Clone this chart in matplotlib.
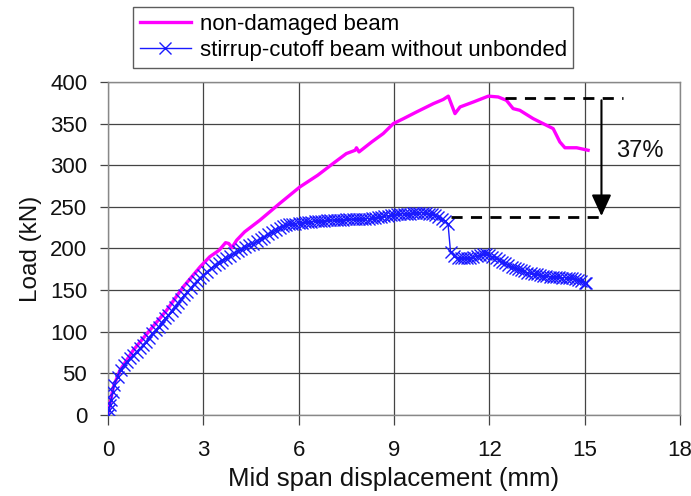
import matplotlib
matplotlib.use("Agg")
import matplotlib.pyplot as plt

# Non-damaged beam (magenta)
nd_x = [0.0, 0.17, 0.38, 0.8, 1.32, 1.85, 2.37, 2.9, 3.2, 3.5, 3.7, 3.8, 3.9, 4.05, 4.3, 4.78, 5.4,
        6.04, 6.6, 7.08, 7.5, 7.78, 7.82, 7.9, 8.3, 8.66, 8.98, 9.3, 9.71, 10.24, 10.55, 10.71,
        10.92, 11.08, 11.5, 11.97, 12.28, 12.54, 12.75, 12.96, 13.38, 14.01, 14.22, 14.38,
        14.75, 15.11]
nd_y = [2, 34, 54, 78, 102, 126, 154, 178, 190, 198, 207, 206, 201, 210, 220, 234, 254,
        274, 288, 302, 314, 318, 321, 316, 328, 338, 350, 356, 364, 374, 379, 383,
        362, 370, 376, 383, 382, 378, 368, 366, 356, 344, 328, 321,
        321, 318]

# Stirrup-cutoff beam without unbonded (blue, x markers)
sc_x = [0.0, 0.03, 0.06, 0.1, 0.15, 0.2, 0.3, 0.4, 0.5, 0.6, 0.7, 0.8, 0.9, 1.0, 1.1, 1.2, 1.3,
        1.4, 1.5, 1.6, 1.7, 1.8, 1.9, 2.0, 2.1, 2.2, 2.3, 2.4, 2.5, 2.6, 2.7, 2.8, 2.9, 3.0,
        3.12, 3.24, 3.36, 3.48, 3.6, 3.72, 3.84, 3.96, 4.08, 4.2, 4.32, 4.44, 4.56, 4.68,
        4.8, 4.92, 5.04, 5.16, 5.28, 5.4,
        5.5, 5.6, 5.7, 5.8, 5.9, 6.0, 6.1, 6.2, 6.3, 6.4, 6.5, 6.6, 6.7, 6.8, 6.9, 7.0,
        7.1, 7.2, 7.3, 7.4, 7.5, 7.6, 7.7, 7.8, 7.9, 8.0, 8.1, 8.2, 8.3, 8.4, 8.5, 8.6,
        8.7, 8.8, 8.9, 9.0, 9.1, 9.2, 9.3, 9.4, 9.5, 9.6, 9.7, 9.8, 9.9, 10.0, 10.1, 10.2,
        10.3, 10.4, 10.5, 10.6, 10.7,
        10.78, 10.9, 11.0, 11.1, 11.2, 11.3, 11.4, 11.5, 11.6, 11.7, 11.8, 11.9, 12.0, 12.1,
        12.2, 12.3, 12.4, 12.5, 12.6, 12.7, 12.8, 12.9, 13.0, 13.1, 13.2, 13.3, 13.4, 13.5,
        13.6, 13.7, 13.8, 13.9, 14.0, 14.1, 14.2, 14.3, 14.4, 14.5, 14.6, 14.7, 14.8, 14.9,
        15.0, 15.05]
sc_y = [0, 6, 12, 18, 28, 36, 46, 54, 60, 64, 68, 72, 76, 80, 84, 88, 93,
        98, 102, 106, 111, 116, 120, 125, 130, 134, 139, 144, 148, 152, 157, 161, 165, 168,
        172, 176, 180, 183, 186, 189, 191, 194, 197, 199, 202, 204, 206, 209,
        212, 214, 217, 220, 222, 225,
        227, 228, 229, 230, 230, 231, 231, 232, 232, 232, 233, 233, 233, 233, 234, 234,
        234, 234, 234, 234, 235, 235, 235, 235, 235, 236, 236, 236, 237, 237, 238, 238,
        239, 239, 240, 240, 241, 241, 242, 242, 242, 243, 243, 243, 243, 243, 242, 241,
        240, 238, 236, 233, 230,
        196, 191, 189, 188, 188, 188, 189, 190, 191, 192, 193, 193, 192, 190,
        188, 186, 184, 182, 180, 178, 177, 175, 174, 173, 171, 170, 169, 169,
        168, 167, 167, 166, 166, 166, 166, 165, 165, 165, 164, 163, 162, 161,
        159, 158]

x_ticks = [0, 3, 6, 9, 12, 15, 18]
y_ticks = [0, 50, 100, 150, 200, 250, 300, 350, 400]

# annotation values
peak_load = 381
reduced_load = 238
drop_label = "37%"

plt.rcParams['font.family'] = ['Liberation Sans', 'DejaVu Sans']

fig = plt.figure(figsize=(6.91, 4.96), dpi=100)
ax = fig.add_axes([0.1563, 0.1633, 0.8277, 0.6714])

ax.plot(nd_x, nd_y, color='#ff00ff', lw=2.4, label='non-damaged beam', zorder=3)
ax.plot(sc_x, sc_y, color='#1a1aff', lw=1.0, marker='x', ms=8.5, mew=1.0,
        label='stirrup-cutoff beam without unbonded', zorder=4)

# dashed reference lines and arrow
ax.plot([12.5, 16.2], [peak_load, peak_load], ls=(0, (4, 3)), color='black', lw=2, zorder=5)
ax.plot([10.8, 15.5], [reduced_load, reduced_load], ls=(0, (4, 3)), color='black', lw=2, zorder=5)
ax.annotate('', xy=(15.53, reduced_load + 1), xytext=(15.53, peak_load - 3),
            arrowprops=dict(arrowstyle='-|>,head_length=1.3,head_width=0.6',
                            color='black', lw=1.5, shrinkA=0, shrinkB=0), zorder=6)
ax.text(16.74, 317, drop_label, fontsize=17, ha='center', va='center', color='#111111')

ax.set_xlim(0, 18)
ax.set_ylim(0, 400)
ax.set_xticks(x_ticks)
ax.set_yticks(y_ticks)
ax.grid(True, color='#444444', lw=0.9)
ax.set_axisbelow(True)
for s in ax.spines.values():
    s.set_color('#888888')
    s.set_linewidth(1.0)
ax.tick_params(axis='x', direction='out', length=7, width=0.9, colors='#444444',
               labelcolor='#111111', labelsize=16, pad=11)
ax.tick_params(axis='y', direction='out', length=6, width=0.9, colors='#444444',
               labelcolor='#111111', labelsize=16, pad=9)
ax.set_xlabel('Mid span displacement (mm)', fontsize=18.5, color='#111111', labelpad=4)
ax.set_ylabel('Load (kN)', fontsize=17.5, color='#111111', labelpad=6)

leg = fig.legend(loc='upper left', bbox_to_anchor=(0.1925, 0.986), fontsize=16,
                 frameon=True, fancybox=False, edgecolor='#333333', handlelength=2.3,
                 borderpad=0.3, labelspacing=0.25, handletextpad=0.4, borderaxespad=0)
leg.get_frame().set_linewidth(1.0)

fig.savefig('out.png', dpi=100)
